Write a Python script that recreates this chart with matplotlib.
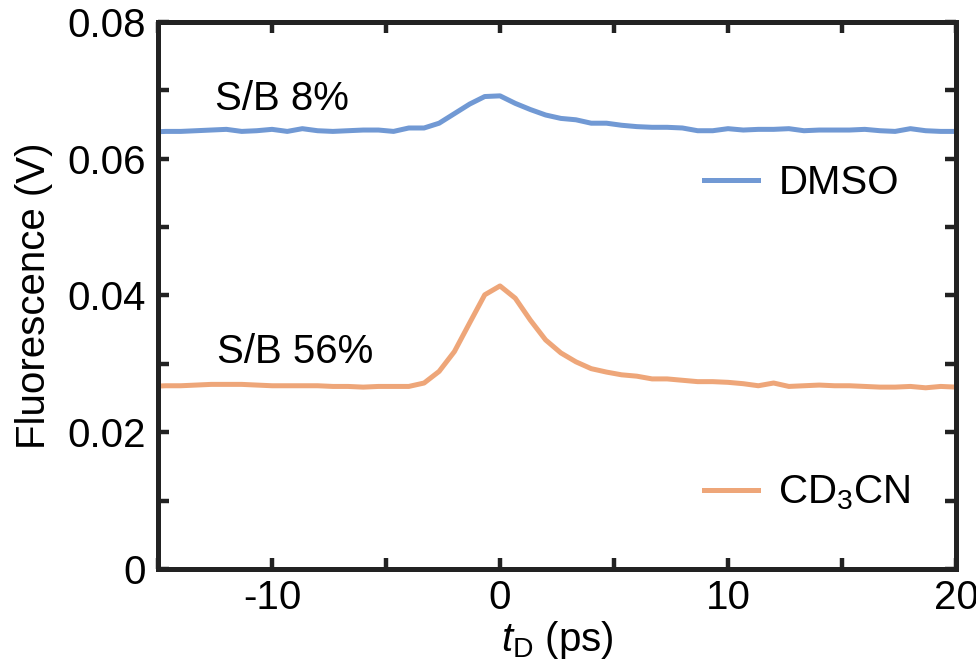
import matplotlib
matplotlib.use("Agg")
import matplotlib.pyplot as plt
from matplotlib.ticker import MultipleLocator, FuncFormatter
from matplotlib.lines import Line2D

plt.rcParams['font.family'] = ['Liberation Sans', 'DejaVu Sans']
plt.rcParams['mathtext.fontset'] = 'custom'
plt.rcParams['mathtext.rm'] = 'Liberation Sans'
plt.rcParams['mathtext.it'] = 'Liberation Sans:italic'

# delay times (ps)
t = [-15.33, -14.67, -14.00, -13.33, -12.67, -12.00, -11.33, -10.67, -10.00,
     -9.33, -8.67, -8.00, -7.33, -6.67, -6.00, -5.33, -4.67, -4.00,
     -3.33, -2.67, -2.00, -1.33, -0.67, 0.00, 0.67, 1.33, 2.00,
     2.67, 3.33, 4.00, 4.67, 5.33, 6.00, 6.67, 7.33, 8.00,
     8.67, 9.33, 10.00, 10.67, 11.33, 12.00, 12.67, 13.33, 14.00,
     14.67, 15.33, 16.00, 16.67, 17.33, 18.00, 18.67, 19.33, 20.00]

dmso = [0.0639, 0.0640, 0.0640, 0.0641, 0.0642, 0.0643, 0.0640, 0.0641, 0.0643,
        0.0640, 0.0644, 0.0641, 0.0640, 0.0641, 0.0642, 0.0642, 0.0640, 0.0645,
        0.0645, 0.0652, 0.0666, 0.0680, 0.0691, 0.0692, 0.0681, 0.0672, 0.0664,
        0.0659, 0.0657, 0.0652, 0.0652, 0.0649, 0.0647, 0.0646, 0.0646, 0.0645,
        0.0641, 0.0641, 0.0644, 0.0642, 0.0643, 0.0643, 0.0644, 0.0641, 0.0642,
        0.0642, 0.0642, 0.0643, 0.0641, 0.0640, 0.0644, 0.0641, 0.0640, 0.0640]

cd3cn = [0.0267, 0.0268, 0.0268, 0.0269, 0.0270, 0.0270, 0.0270, 0.0269, 0.0268,
         0.0268, 0.0268, 0.0268, 0.0267, 0.0267, 0.0266, 0.0267, 0.0267, 0.0267,
         0.0272, 0.0289, 0.0318, 0.0360, 0.0401, 0.0414, 0.0396, 0.0364, 0.0335,
         0.0316, 0.0303, 0.0293, 0.0288, 0.0284, 0.0282, 0.0278, 0.0278, 0.0276,
         0.0274, 0.0274, 0.0273, 0.0271, 0.0268, 0.0272, 0.0267, 0.0268, 0.0269,
         0.0268, 0.0268, 0.0267, 0.0266, 0.0266, 0.0267, 0.0265, 0.0267, 0.0266]

series_labels = ['DMSO', 'CD$_3$CN']
annotations = ['S/B 8%', 'S/B 56%']
xticks_labeled = [-10, 0, 10, 20]
yticks_labeled = [0, 0.02, 0.04, 0.06, 0.08]

c_blue = '#7199d4'
c_orange = '#eea679'
fs = 29

fig = plt.figure(figsize=(9.76, 6.69), dpi=100)
ax = fig.add_axes([0.1619, 0.1495, 0.8176, 0.8176])

l1, = ax.plot(t, dmso, color=c_blue, lw=3.6, solid_joinstyle='round')
l2, = ax.plot(t, cd3cn, color=c_orange, lw=3.6, solid_joinstyle='round')

ax.set_xlim(-15, 20)
ax.set_ylim(0, 0.08)
ax.xaxis.set_major_locator(MultipleLocator(5))
ax.yaxis.set_major_locator(MultipleLocator(0.01))

def xfmt(v, pos):
    iv = int(round(v))
    return f'{iv}' if any(abs(v - k) < 1e-6 for k in xticks_labeled) else ''

def yfmt(v, pos):
    for k in yticks_labeled:
        if abs(v - k) < 1e-9:
            return '0' if k == 0 else f'{k:.2f}'
    return ''

ax.xaxis.set_major_formatter(FuncFormatter(xfmt))
ax.yaxis.set_major_formatter(FuncFormatter(yfmt))

ax.tick_params(direction='in', length=8, width=3.2, color='#222222',
               top=True, right=True, labelsize=fs)
ax.tick_params(axis='y', pad=9)
ax.tick_params(axis='x', pad=7)
for sp in ax.spines.values():
    sp.set_linewidth(3.6)
    sp.set_color('#222222')

ax.set_ylabel('Fluorescence (V)', fontsize=fs, labelpad=10)
ax.set_xlabel('$t_\\mathrm{D}$ (ps)', fontsize=fs, labelpad=2)

ax.text(-12.5, 0.0671, annotations[0], fontsize=fs, ha='left', va='baseline')
ax.text(-12.4, 0.0301, annotations[1], fontsize=fs, ha='left', va='baseline')

leg1 = ax.legend([l1], [series_labels[0]], loc='center left',
                 bbox_to_anchor=(0.684, 0.706), frameon=False, fontsize=fs,
                 handlelength=1.35, handletextpad=0.5, borderpad=0, borderaxespad=0)
ax.add_artist(leg1)
leg2 = ax.legend([l2], [series_labels[1]], loc='center left',
                 bbox_to_anchor=(0.684, 0.139), frameon=False, fontsize=fs,
                 handlelength=1.35, handletextpad=0.5, borderpad=0, borderaxespad=0)

fig.savefig('out.png', dpi=100)
